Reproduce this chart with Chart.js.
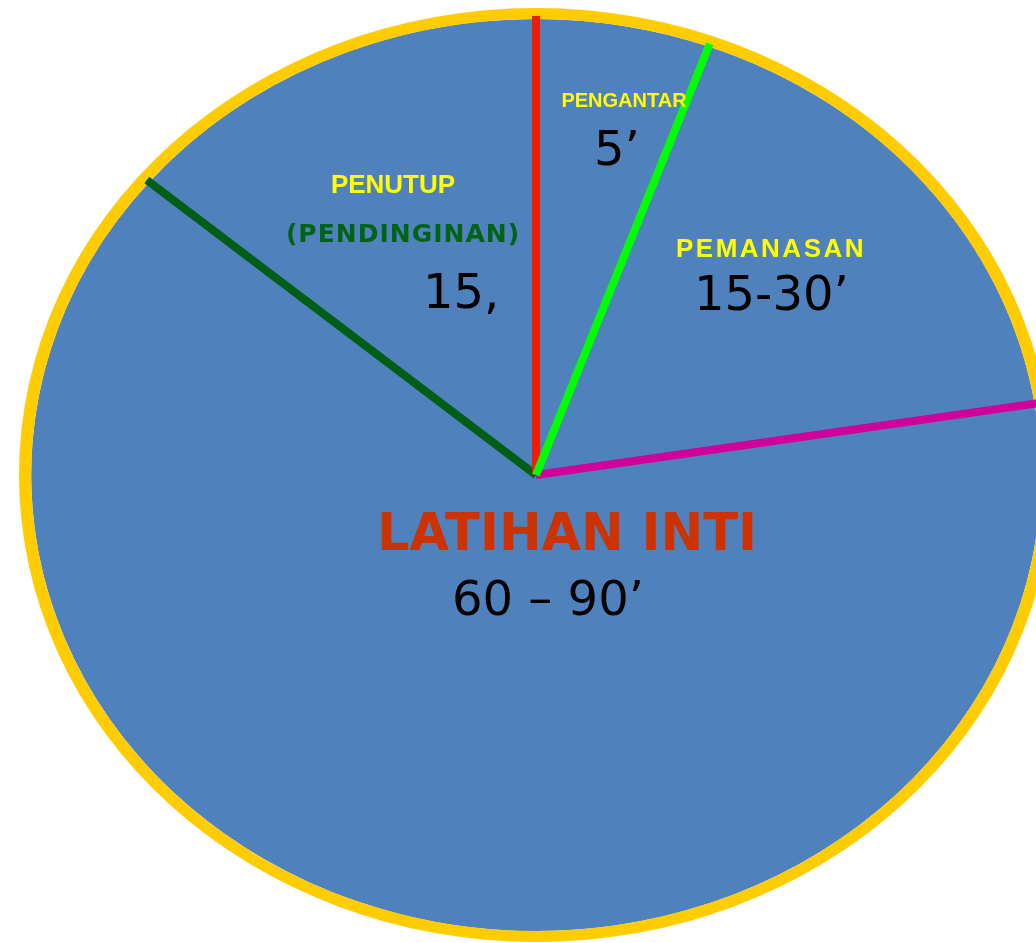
<!DOCTYPE html>
<html>
<head>
<meta charset="utf-8">
<script src="https://cdn.jsdelivr.net/npm/chart.js@4.4.1/dist/chart.umd.min.js"></script>
<style>
  html, body { margin: 0; padding: 0; background: #fff; }
  #wrap { width: 1036px; height: 943px; }
</style>
</head>
<body>
<div id="wrap"><canvas id="pie" width="1036" height="943"></canvas></div>
<script>
// slices clockwise from 12 o'clock, sweep (degrees)
const segments = ['PENGANTAR', 'PEMANASAN', 'LATIHAN INTI', 'PENUTUP'];
const subtitles = ['', '', '', '(PENDINGINAN)'];
const durations = ['5’', '15-30’', '60 – 90’', '15,'];
const sweepDeg = [20, 61, 229, 50];
const dividerColors = ['#ee1c00', '#00ff00', '#d0009a', '#005e16'];

const BLUE = '#4f81bd';
const RIM = '#ffcc00';
const STRETCH_X = 517 / 467;   // pie is drawn as an ellipse

// text rows, offsets from the pie centre
const rows = [
  { seg: 0, field: 'name', dx: 88,   dy: -368, font: 'bold 20px "Liberation Sans"', color: '#ffff00', align: 'center' },
  { seg: 0, field: 'time', dx: 58,   dy: -310, font: '48px "DejaVu Sans"', color: '#000', align: 'left' },
  { seg: 1, field: 'name', dx: 235,  dy: -218, font: 'bold 26px "Liberation Sans"', color: '#ffff00', align: 'center', spacing: '2.5px' },
  { seg: 1, field: 'time', dx: 158,  dy: -165, font: '48px "DejaVu Sans"', color: '#000', align: 'left' },
  { seg: 2, field: 'name', dx: 31,   dy: 75,   font: 'bold 51px "DejaVu Sans"', color: '#cc3300', align: 'center' },
  { seg: 2, field: 'time', dx: -84,  dy: 140,  font: '48px "DejaVu Sans"', color: '#000', align: 'left' },
  { seg: 3, field: 'name', dx: -143, dy: -282, font: 'bold 26px "Liberation Sans"', color: '#ffff00', align: 'center' },
  { seg: 3, field: 'sub',  dx: -133, dy: -233, font: 'bold 25px "DejaVu Sans"', color: '#006414', align: 'center', spacing: '1px' },
  { seg: 3, field: 'time', dx: -113, dy: -167, font: '48px "DejaVu Sans"', color: '#000', align: 'left' }
];

const ellipse = {
  id: 'ellipse',
  beforeDatasetsDraw(chart) {
    const arc = chart.getDatasetMeta(0).data[0];
    const ctx = chart.ctx;
    ctx.save();
    ctx.translate(arc.x, arc.y);
    ctx.scale(STRETCH_X, 1);
    ctx.translate(-arc.x, -arc.y);
  },
  afterDatasetsDraw(chart) {
    const ctx = chart.ctx;
    ctx.restore();
    const arcs = chart.getDatasetMeta(1).data;
    const cx = arcs[0].x, cy = arcs[0].y;

    // divider lines on each slice start
    const order = [3, 0, 2, 1];
    order.forEach(i => {
      const a = arcs[i].startAngle;
      const r = arcs[i].outerRadius + 3;
      ctx.beginPath();
      ctx.moveTo(cx, cy);
      ctx.lineTo(cx + Math.cos(a) * r * STRETCH_X, cy + Math.sin(a) * r);
      ctx.strokeStyle = dividerColors[i];
      ctx.lineWidth = 8;
      ctx.lineCap = 'butt';
      ctx.stroke();
    });

    const src = { name: segments, sub: subtitles, time: durations };
    rows.forEach(t => {
      ctx.save();
      ctx.font = t.font;
      ctx.fillStyle = t.color;
      ctx.textAlign = t.align;
      ctx.textBaseline = 'alphabetic';
      ctx.letterSpacing = t.spacing || '0px';
      ctx.fillText(src[t.field][t.seg], cx + t.dx, cy + t.dy);
      ctx.restore();
    });
  }
};

new Chart(document.getElementById('pie').getContext('2d'), {
  type: 'pie',
  data: {
    labels: segments,
    datasets: [
      { data: [360], backgroundColor: RIM, borderWidth: 0, weight: 11 },
      { data: sweepDeg, backgroundColor: BLUE, borderWidth: 0, weight: 456 }
    ]
  },
  options: {
    responsive: false,
    animation: false,
    events: [],
    radius: 467,
    hoverOffset: 0,
    layout: { padding: { left: 36, right: 0, top: 8, bottom: 1 } },
    plugins: { legend: { display: false }, tooltip: { enabled: false } }
  },
  plugins: [ellipse]
});
</script>
</body>
</html>
